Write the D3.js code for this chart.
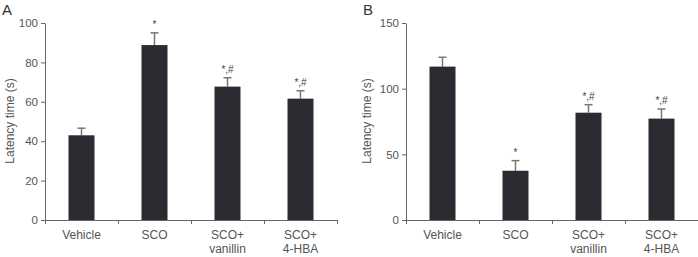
<!DOCTYPE html>
<html>
<head>
<meta charset="utf-8">
<script src="https://cdn.jsdelivr.net/npm/d3@7"></script>
<style>
body { margin: 0; background: #fff; }
text { font-family: "Liberation Sans", Arial, sans-serif; }
</style>
</head>
<body>
<svg width="698" height="257"></svg>
<script>
var svg = d3.select('svg');

// groups on the x axis (second line of the label after "|")
var groups = ["Vehicle", "SCO", "SCO+|vanillin", "SCO+|4-HBA"];

// panel A: latency time (s)
var meanA = [43, 88.8, 67.7, 61.6];
var errA = [3.6, 6.2, 4.5, 4.0];
var markA = ["", "*", "*,#", "*,#"];
var ticksA = [0, 20, 40, 60, 80, 100];

// panel B: latency time (s)
var meanB = [116.8, 37.5, 81.7, 77.2];
var errB = [7.1, 7.7, 6.1, 7.3];
var markB = ["", "*", "*,#", "*,#"];
var ticksB = [0, 50, 100, 150];

var barColor = '#2b2b31';
var axisColor = '#666';
var textColor = '#555';

function drawPanel(opt) {
	var g = svg.append('g');

	var x = d3.scaleBand().domain(groups).range([opt.left, opt.left + 292]);
	var y = d3.scaleLinear().domain([0, opt.max]).range([220, 23]);

	// panel letter
	g.append('text')
		.attr('x', opt.letterX).attr('y', 15)
		.attr('font-size', 15).attr('fill', '#333')
		.text(opt.letter);

	// y axis
	var yAxis = g.append('g')
		.attr('transform', 'translate(' + opt.left + ',0)')
		.call(d3.axisLeft(y).tickValues(opt.ticks).tickSize(4).tickPadding(3).tickSizeOuter(0));
	yAxis.select('.domain').attr('stroke', axisColor);
	yAxis.selectAll('line').attr('stroke', axisColor);
	yAxis.selectAll('text').attr('font-size', 11.5).attr('fill', textColor)
		.attr('font-family', '"Liberation Sans", Arial, sans-serif');

	// y label
	g.append('text')
		.attr('transform', 'translate(' + opt.labelX + ',' + 121 + ') rotate(-90)')
		.attr('text-anchor', 'middle')
		.attr('font-size', 12).attr('fill', textColor)
		.text('Latency time (s)');

	// x axis line and ticks at band boundaries
	g.append('line')
		.attr('x1', opt.left).attr('x2', opt.left + 292)
		.attr('y1', y(0) + 0.5).attr('y2', y(0) + 0.5)
		.attr('stroke', axisColor);
	var bounds = [opt.left].concat(groups.map(function(d) { return x(d) + x.bandwidth(); }));
	g.selectAll('.xtick').data(bounds).enter().append('line')
		.attr('x1', function(d) { return d + 0.5; })
		.attr('x2', function(d) { return d + 0.5; })
		.attr('y1', y(0)).attr('y2', y(0) + 4)
		.attr('stroke', axisColor);

	// category labels
	var lab = g.selectAll('.cat').data(groups).enter().append('text')
		.attr('text-anchor', 'middle')
		.attr('font-size', 12).attr('fill', textColor)
		.attr('x', function(d) { return x(d) + x.bandwidth() / 2; })
		.attr('y', 239);
	lab.each(function(d) {
		var parts = d.split('|');
		var t = d3.select(this);
		parts.forEach(function(p, i) {
			t.append('tspan')
				.attr('x', x(d) + x.bandwidth() / 2)
				.attr('dy', i == 0 ? 0 : 13.5)
				.text(p);
		});
	});

	var bw = 26;
	var data = groups.map(function(d, i) {
		return {name: d, mean: opt.mean[i], err: opt.err[i], mark: opt.mark[i]};
	});

	// error bars (upper only)
	g.selectAll('.err').data(data).enter().append('line')
		.attr('x1', function(d) { return x(d.name) + x.bandwidth() / 2; })
		.attr('x2', function(d) { return x(d.name) + x.bandwidth() / 2; })
		.attr('y1', function(d) { return y(d.mean); })
		.attr('y2', function(d) { return y(d.mean + d.err); })
		.attr('stroke', '#777').attr('stroke-width', 1.5);
	g.selectAll('.cap').data(data).enter().append('line')
		.attr('x1', function(d) { return x(d.name) + x.bandwidth() / 2 - 4; })
		.attr('x2', function(d) { return x(d.name) + x.bandwidth() / 2 + 4; })
		.attr('y1', function(d) { return y(d.mean + d.err); })
		.attr('y2', function(d) { return y(d.mean + d.err); })
		.attr('stroke', '#777').attr('stroke-width', 1.5);

	// bars
	g.selectAll('.bar').data(data).enter().append('rect')
		.attr('x', function(d) { return x(d.name) + x.bandwidth() / 2 - bw / 2; })
		.attr('width', bw)
		.attr('y', function(d) { return y(d.mean); })
		.attr('height', function(d) { return y(0) - y(d.mean); })
		.attr('fill', barColor);

	// significance marks
	g.selectAll('.mark').data(data).enter().append('text')
		.attr('text-anchor', 'middle')
		.attr('font-size', 10).attr('fill', '#444')
		.attr('x', function(d) { return x(d.name) + x.bandwidth() / 2; })
		.attr('y', function(d) { return y(d.mean + d.err) - 5; })
		.text(function(d) { return d.mark; });
}

drawPanel({letter: 'A', letterX: 2, labelX: 14, left: 45, max: 100,
	ticks: ticksA, mean: meanA, err: errA, mark: markA});
drawPanel({letter: 'B', letterX: 363, labelX: 371, left: 406, max: 150,
	ticks: ticksB, mean: meanB, err: errB, mark: markB});
</script>
</body>
</html>
